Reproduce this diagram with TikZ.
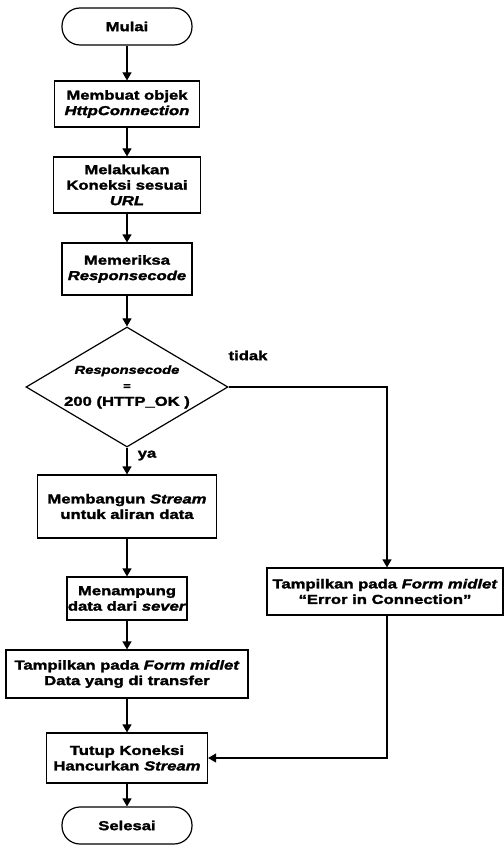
\documentclass[tikz,border=0pt]{standalone}
\usepackage{fontspec}
\setmainfont{Liberation Sans}[FakeStretch=1.28, BoldFeatures={FakeBold=2}, BoldItalicFeatures={FakeBold=2}]
\usetikzlibrary{shapes.geometric, arrows.meta}

\begin{document}
\begin{tikzpicture}[x=1pt, y=-1pt,
  every node/.style={font=\fontsize{13}{15.5}\selectfont\bfseries, align=center, inner sep=0pt},
  proc/.style={draw, line width=1.2pt},
  term/.style={draw, line width=1.2pt, rounded corners=18pt, minimum width=130pt, minimum height=37pt},
  decision/.style={diamond, draw, line width=1.2pt, minimum width=202pt, minimum height=120pt},
  flow/.style={line width=1.2pt, -{Triangle[length=8pt,width=9pt]}},
  lbl/.style={font=\fontsize{13}{15.5}\selectfont\bfseries}]
  \useasboundingbox (0,0) rectangle (503,845);

  % main column
  \node[term] (start) at (127,26.5) {Mulai};
  \node[proc, minimum width=145pt, minimum height=46pt] (b1) at (127,104) {Membuat objek\\\textit{HttpConnection}};
  \node[proc, minimum width=147pt, minimum height=56pt] (b2) at (127,185) {Melakukan\\Koneksi sesuai\\\textit{URL}};
  \node[proc, minimum width=130pt, minimum height=52pt] (b3) at (127,269) {Memeriksa\\\textit{Responsecode}};
  \node[decision] (dec) at (127,387) {};
  \node (dectxt) at (127,387) {{\fontsize{11.5}{13}\selectfont\textit{Responsecode}}\\[0pt]{\fontsize{10}{11}\selectfont =}\\[1pt]200 (HTTP\_OK )};
  \node[proc, minimum width=179pt, minimum height=63pt] (b4) at (127,506.5) {Membangun \textit{Stream}\\untuk aliran data};
  \node[proc, minimum width=120pt, minimum height=43pt] (b5) at (127,598.5) {Menampung\\data dari \textit{sever}};
  \node[proc, minimum width=242pt, minimum height=48pt] (b6) at (127,674) {Tampilkan pada \textit{Form midlet}\\Data yang di transfer};
  \node[proc, minimum width=161pt, minimum height=50pt] (b7) at (127,758) {Tutup Koneksi\\Hancurkan \textit{Stream}};
  \node[term] (stop) at (127,825.5) {Selesai};

  % error branch
  \node[proc, minimum width=236pt, minimum height=47pt] (err) at (385,591.5) {Tampilkan pada \textit{Form midlet}\\“Error in Connection”};

  % connectors
  \draw[flow] (start) -- (b1);
  \draw[flow] (b1) -- (b2);
  \draw[flow] (b2) -- (b3);
  \draw[flow] (b3) -- (dec);
  \draw[flow] (dec) -- (b4);
  \draw[flow] (b4) -- (b5);
  \draw[flow] (b5) -- (b6);
  \draw[flow] (b6) -- (b7);
  \draw[flow] (b7) -- (stop);

  \coordinate (tR) at (387,387);
  \draw[flow] (dec.east) -- (tR) -- (tR |- err.north);
  \draw[flow] (err.south -| tR) -- (tR |- b7.east) -- (b7.east);

  % branch labels
  \node[lbl] (tidak) at (248,355.5) {tidak};
  \node[lbl] (ya) at (147,455.5) {ya};
\end{tikzpicture}
\end{document}
